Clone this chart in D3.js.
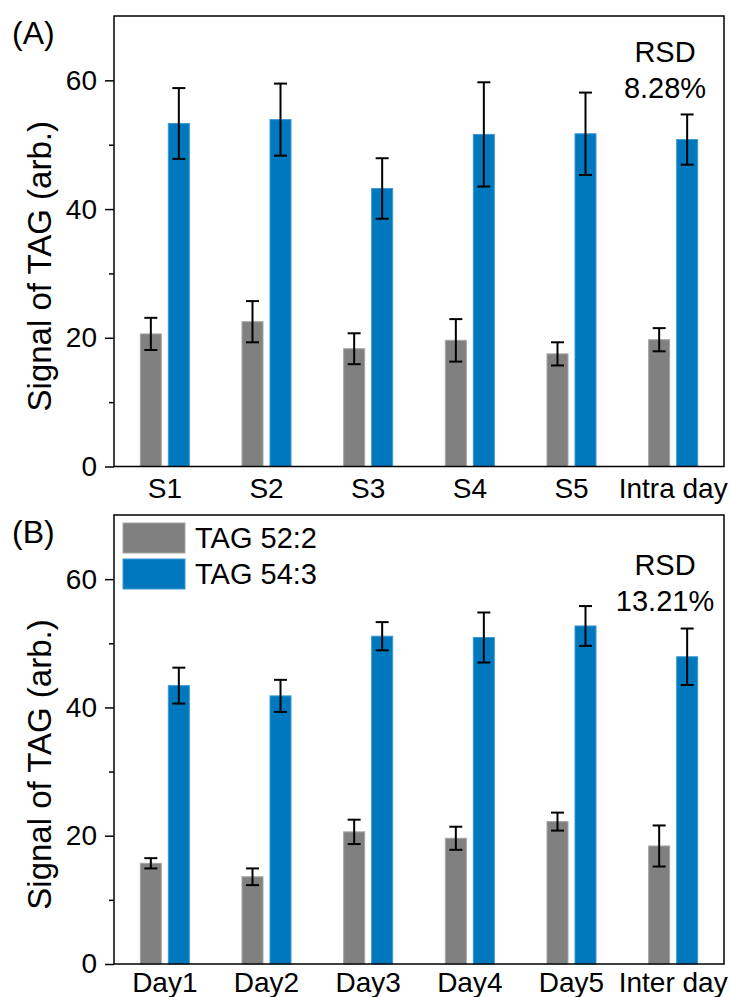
<!DOCTYPE html>
<html>
<head>
<meta charset="utf-8">
<script src="https://cdn.jsdelivr.net/npm/d3@7"></script>
<style>
  body { margin: 0; background: #fff; }
  svg text { font-family: "Liberation Sans", Arial, sans-serif; fill: #000; }
</style>
</head>
<body>
<div id="chart"></div>
<script>
// values
const catsA = ["S1", "S2", "S3", "S4", "S5", "Intra day"]
const catsB = ["Day1", "Day2", "Day3", "Day4", "Day5", "Inter day"]
const seriesNames = ["TAG 52:2", "TAG 54:3"]

const tag522A = [20.6, 22.5, 18.3, 19.6, 17.5, 19.7]
const tag522AErr = [2.5, 3.2, 2.4, 3.3, 1.8, 1.8]
const tag543A = [53.3, 53.9, 43.2, 51.6, 51.7, 50.8]
const tag543AErr = [5.5, 5.6, 4.7, 8.1, 6.4, 3.9]

const tag522B = [15.7, 13.6, 20.6, 19.6, 22.2, 18.4]
const tag522BErr = [0.8, 1.3, 1.9, 1.8, 1.4, 3.2]
const tag543B = [43.4, 41.8, 51.1, 50.9, 52.7, 47.9]
const tag543BErr = [2.8, 2.5, 2.2, 3.9, 3.1, 4.4]

const majorTicks = [0, 20, 40, 60]
const minorTicks = [10, 30, 50]
const yMax = 70

const colors = ["#808080", "#0078be"]
const edgeColors = ["#a4a4a4", "#3a98d2"]

const width = 730, height = 997
const svg = d3.select("#chart").append("svg")
    .attr("width", width).attr("height", height)

svg.append("rect").attr("width", width).attr("height", height).attr("fill", "#fff")

function drawPanel(opts) {
    let left = 114, right = 724
    let top = opts.top, bottom = opts.bottom

    let x = d3.scaleBand().domain(opts.cats).range([left, right])
    let bw = x.bandwidth()
    // two bars per group, 21px wide with a 7px gap
    let x1 = d3.scaleBand().domain(seriesNames)
        .range([bw / 2 - 24.5, bw / 2 + 24.5]).paddingInner(0.25)

    let y = d3.scaleLinear().domain([0, yMax]).range([bottom, top])

    let g = svg.append("g")

    // y axis: major and minor ticks outside
    g.append("g")
        .attr("transform", "translate(" + left + ",0)")
        .call(d3.axisLeft(y).tickValues(minorTicks).tickSize(5).tickFormat(""))
        .call(a => a.select(".domain").remove())
        .call(a => a.selectAll("line").attr("stroke", "#000").attr("stroke-width", 1.5))

    g.append("g")
        .attr("transform", "translate(" + left + ",0)")
        .call(d3.axisLeft(y).tickValues(majorTicks).tickSize(9).tickPadding(8))
        .call(a => a.select(".domain").remove())
        .call(a => a.selectAll("line").attr("stroke", "#000").attr("stroke-width", 1.5))
        .call(a => a.selectAll("text")
            .style("font-size", "28px")
            .attr("font-family", null))

    // x axis labels only
    g.append("g")
        .attr("transform", "translate(0," + bottom + ")")
        .call(d3.axisBottom(x).tickSize(0).tickPadding(opts.labelPad))
        .call(a => a.select(".domain").remove())
        .call(a => a.selectAll("text")
            .style("font-size", "28px")
            .attr("font-family", null))

    // bars
    let rows = opts.cats.map((c, i) => ({
        cat: c,
        vals: [
            {s: seriesNames[0], v: opts.s1[i], e: opts.s1Err[i], k: 0},
            {s: seriesNames[1], v: opts.s2[i], e: opts.s2Err[i], k: 1}
        ]
    }))

    let groups = g.append("g").selectAll("g")
        .data(rows)
        .enter()
        .append("g")
        .attr("transform", d => "translate(" + x(d.cat) + ",0)")

    groups.selectAll("rect")
        .data(d => d.vals)
        .enter()
        .append("rect")
        .attr("x", d => x1(d.s))
        .attr("y", d => y(d.v))
        .attr("width", x1.bandwidth())
        .attr("height", d => y(0) - y(d.v))
        .attr("fill", d => colors[d.k])
        .attr("stroke", d => edgeColors[d.k])
        .attr("stroke-width", 1)

    // error bars
    let eb = groups.selectAll("g.err")
        .data(d => d.vals)
        .enter()
        .append("g")
        .attr("class", "err")
        .attr("stroke", "#000")
        .attr("stroke-width", 2)
    eb.append("line")
        .attr("x1", d => x1(d.s) + x1.bandwidth() / 2)
        .attr("x2", d => x1(d.s) + x1.bandwidth() / 2)
        .attr("y1", d => y(d.v + d.e))
        .attr("y2", d => y(d.v - d.e))
    eb.append("line")
        .attr("x1", d => x1(d.s) + x1.bandwidth() / 2 - 6.5)
        .attr("x2", d => x1(d.s) + x1.bandwidth() / 2 + 6.5)
        .attr("y1", d => y(d.v + d.e))
        .attr("y2", d => y(d.v + d.e))
    eb.append("line")
        .attr("x1", d => x1(d.s) + x1.bandwidth() / 2 - 6.5)
        .attr("x2", d => x1(d.s) + x1.bandwidth() / 2 + 6.5)
        .attr("y1", d => y(d.v - d.e))
        .attr("y2", d => y(d.v - d.e))

    // frame
    g.append("rect")
        .attr("x", left).attr("y", top)
        .attr("width", right - left).attr("height", bottom - top)
        .attr("fill", "none").attr("stroke", "#000").attr("stroke-width", 1.5)

    // y title
    g.append("text")
        .attr("transform", "translate(51," + ((top + bottom) / 2 + 25) + ") rotate(-90)")
        .attr("text-anchor", "middle")
        .style("font-size", "33px")
        .text("Signal of TAG (arb.)")

    // panel letter
    g.append("text")
        .attr("x", 12).attr("y", top + 28)
        .style("font-size", "32px")
        .text(opts.letter)

    // RSD note
    g.append("text")
        .attr("x", 665).attr("y", top + opts.rsdOffset)
        .attr("text-anchor", "middle")
        .style("font-size", "29px")
        .text("RSD")
    g.append("text")
        .attr("x", 665).attr("y", top + opts.rsdOffset + 36)
        .attr("text-anchor", "middle")
        .style("font-size", "29px")
        .text(opts.rsd)

    return g
}

drawPanel({
    top: 16, bottom: 466.5, letter: "(A)", labelPad: 12,
    cats: catsA, s1: tag522A, s1Err: tag522AErr, s2: tag543A, s2Err: tag543AErr,
    rsd: "8.28%", rsdOffset: 46
})

let gB = drawPanel({
    top: 515, bottom: 964, letter: "(B)", labelPad: 8,
    cats: catsB, s1: tag522B, s1Err: tag522BErr, s2: tag543B, s2Err: tag543BErr,
    rsd: "13.21%", rsdOffset: 60
})

// legend in panel B
let legend = gB.append("g").selectAll("g")
    .data(seriesNames)
    .enter()
    .append("g")
    .attr("transform", (d, i) => "translate(123," + (523 + i * 36) + ")")
legend.append("rect")
    .attr("width", 62).attr("height", 30)
    .attr("fill", (d, i) => colors[i])
    .attr("stroke", (d, i) => edgeColors[i])
legend.append("text")
    .attr("x", 72).attr("y", 25)
    .style("font-size", "29px")
    .text(d => d)
</script>
</body>
</html>
